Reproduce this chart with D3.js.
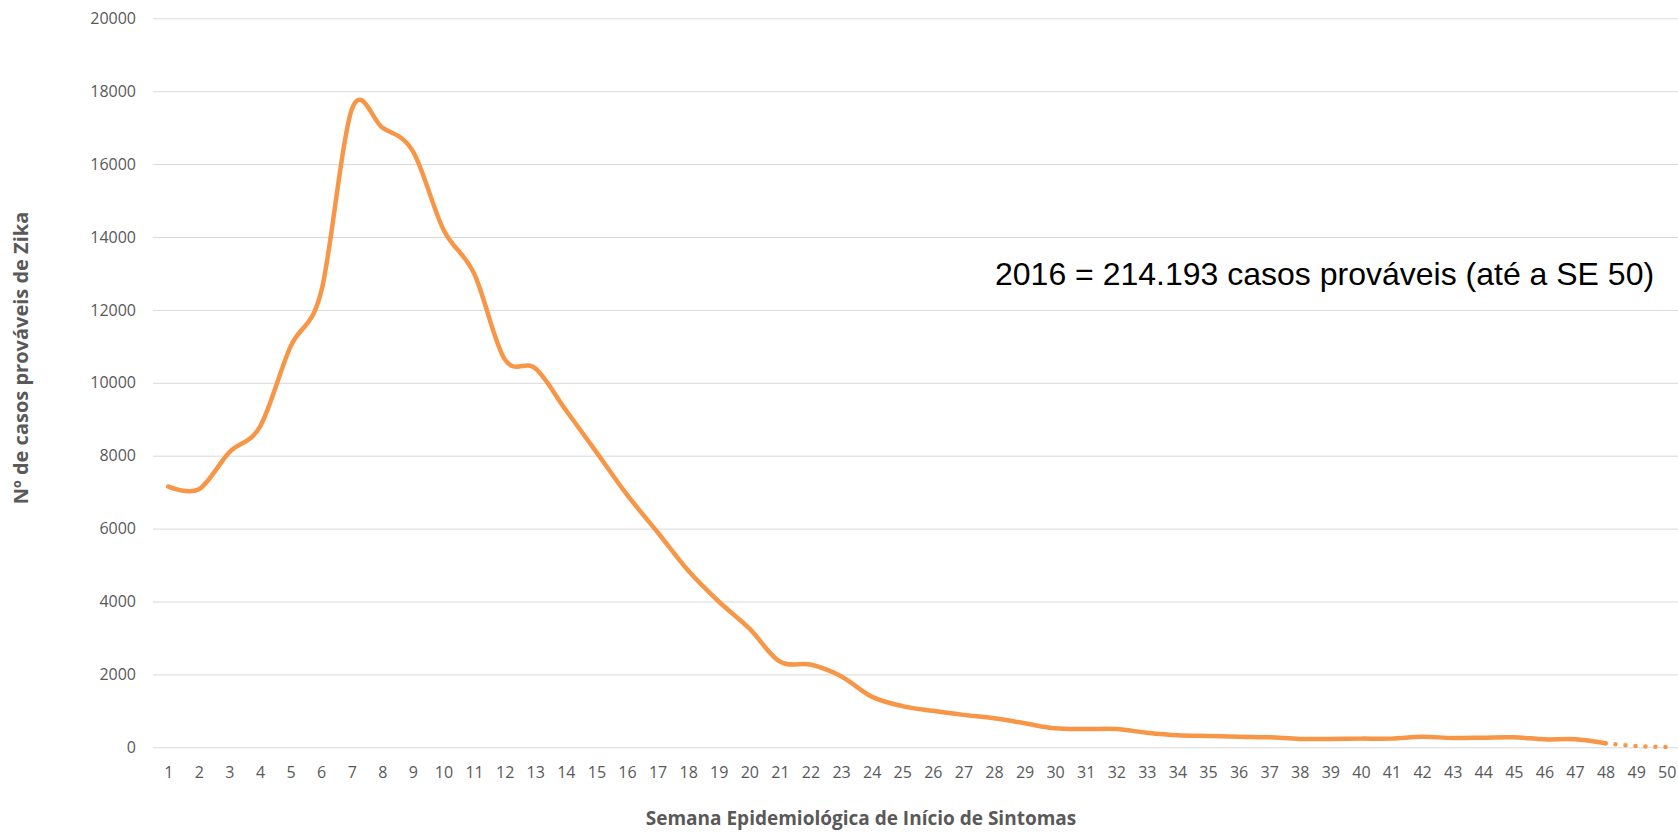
<!DOCTYPE html>
<html>
<head>
    <meta charset="utf-8">
    <title>Zika 2016</title>
    <script src="https://d3js.org/d3.v7.min.js"></script>
    <style>
        body { margin: 0; background: #fff; }
        .axis text { font-family: "Open Sans", sans-serif; font-size: 16px; fill: #595959; }
    </style>
</head>
<body>
    <svg width="1678" height="832"></svg>
    <script>
        // weeks and probable cases per epidemiological week
        const weeks = d3.range(1, 51)
        const cases = [7150, 7080, 8100, 8800, 11000, 12500, 17500, 17000, 16350, 14200,
            13000, 10650, 10400, 9250, 8100, 6930, 5900, 4850, 4000, 3260,
            2350, 2270, 1950, 1390, 1130, 1000, 890, 795, 660, 520,
            500, 500, 400, 330, 310, 290, 275, 228, 228, 238,
            238, 290, 255, 265, 274, 219, 219, 110, 36, 8]
        const lastSolidWeek = 48
        const yTicks = d3.range(0, 20001, 2000)
        const note = "2016 = 214.193 casos prováveis (até a SE 50)"
        const yTitle = "Nº de casos prováveis de Zika"
        const xTitle = "Semana Epidemiológica de Início de Sintomas"

        const svg = d3.select("svg")
        const data = weeks.map((w, i) => ({ week: w, value: cases[i] }))

        const xScale = d3.scalePoint()
            .domain(weeks)
            .range([153, 1682])
            .padding(0.5)

        const yScale = d3.scaleLinear()
            .domain([0, 20000])
            .range([747.3, 18.3])

        // y axis + gridlines
        const yAxis = d3.axisLeft(yScale)
            .tickValues(yTicks)
            .tickSize(-(1682 - 153))
            .tickPadding(17)
            .tickFormat(d3.format("d"))
        const gy = svg.append("g")
            .attr("class", "axis")
            .attr("transform", "translate(153,0)")
            .call(yAxis)
        gy.select(".domain").remove()
        gy.selectAll("line").attr("stroke", "#d9d9d9").attr("stroke-width", 1)

        // x axis
        const xAxis = d3.axisBottom(xScale)
            .tickSize(0)
            .tickPadding(19)
        const gx = svg.append("g")
            .attr("class", "axis")
            .attr("transform", `translate(0,${yScale(0)})`)
            .call(xAxis)
        gx.select(".domain").remove()

        const line = d3.line()
            .x(d => xScale(d.week))
            .y(d => yScale(d.value))
            .curve(d3.curveCardinal)

        svg.append("path")
            .datum(data.filter(d => d.week <= lastSolidWeek))
            .attr("fill", "none")
            .attr("stroke", "#F79646")
            .attr("stroke-width", 4.5)
            .attr("stroke-linecap", "round")
            .attr("stroke-linejoin", "round")
            .attr("d", line)

        // weeks 49-50 still open: dotted
        svg.append("path")
            .datum(data.filter(d => d.week >= lastSolidWeek))
            .attr("fill", "none")
            .attr("stroke", "#F79646")
            .attr("stroke-width", 4.5)
            .attr("stroke-linecap", "round")
            .attr("stroke-dasharray", "0,10")
            .attr("d", line)

        // titles
        svg.append("text")
            .attr("transform", "translate(28,358) rotate(-90)")
            .attr("text-anchor", "middle")
            .style("font-family", "'Open Sans', sans-serif")
            .style("font-weight", "bold")
            .style("font-size", "20px")
            .style("fill", "#595959")
            .text(yTitle)

        svg.append("text")
            .attr("x", 861)
            .attr("y", 825)
            .attr("text-anchor", "middle")
            .style("font-family", "'Open Sans', sans-serif")
            .style("font-weight", "bold")
            .style("font-size", "19px")
            .style("fill", "#595959")
            .text(xTitle)

        svg.append("text")
            .attr("x", 995)
            .attr("y", 285)
            .style("font-family", "'Liberation Sans', Arial, sans-serif")
            .style("font-size", "32px")
            .style("fill", "#000")
            .text(note)
    </script>
</body>
</html>
